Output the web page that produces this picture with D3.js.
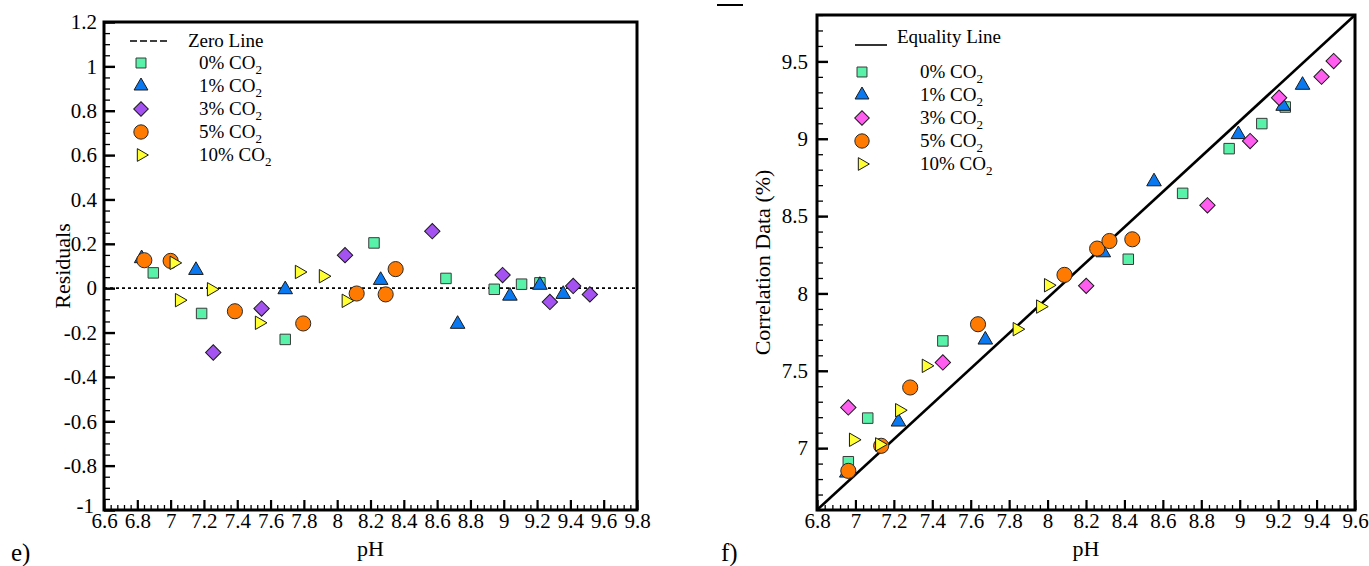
<!DOCTYPE html>
<html>
<head>
<meta charset="utf-8">
<script src="https://cdn.jsdelivr.net/npm/d3@7"></script>
<style>
  body { margin: 0; background: #fff; }
</style>
</head>
<body>
<div id="chart"></div>
<script>
// ---- data ----
// e) residuals vs pH
var resSquare = [[6.896, 0.069], [7.186, -0.114], [7.688, -0.231], [8.221, 0.204], [8.653, 0.044], [8.943, -0.005], [9.107, 0.018], [9.217, 0.024]];
var resTriangle = [[6.826, 0.134], [7.152, 0.081], [7.688, -0.006], [8.261, 0.036], [8.723, -0.162], [9.037, -0.035], [9.217, 0.014], [9.357, -0.027]];
var resDiamond = [[7.256, -0.290], [7.546, -0.092], [8.047, 0.149], [8.571, 0.257], [8.993, 0.059], [9.277, -0.062], [9.417, 0.010], [9.517, -0.028]];
var resCircle = [[6.842, 0.126], [7.0, 0.123], [7.386, -0.104], [7.796, -0.159], [8.117, -0.024], [8.291, -0.028], [8.351, 0.086]];
var resRight = [[7.02, 0.114], [7.052, -0.054], [7.244, -0.005], [7.532, -0.156], [7.772, 0.073], [7.916, 0.054], [8.053, -0.057]];

// f) correlation data vs pH
var corSquare = [[6.963, 6.912], [7.064, 7.194], [7.455, 7.693], [8.420, 8.221], [8.703, 8.647], [8.945, 8.936], [9.115, 9.098], [9.237, 9.205]];
var corTriangle = [[6.955, 6.84], [7.224, 7.170], [7.676, 7.700], [8.290, 8.264], [8.554, 8.723], [8.993, 9.028], [9.226, 9.211], [9.327, 9.347]];
var corDiamond = [[6.963, 7.263], [7.455, 7.554], [8.201, 8.049], [8.832, 8.570], [9.054, 8.985], [9.205, 9.265], [9.426, 9.401], [9.489, 9.502]];
var corCircle = [[6.963, 6.853], [7.134, 7.015], [7.285, 7.392], [7.638, 7.801], [8.088, 8.120], [8.258, 8.290], [8.322, 8.339], [8.441, 8.350]];
var corRight = [[6.989, 7.054], [7.125, 7.024], [7.229, 7.245], [7.368, 7.532], [7.841, 7.769], [7.963, 7.915], [8.004, 8.053]];

var seriesNames = ["0% CO", "1% CO", "3% CO", "5% CO", "10% CO"];
var xTicksE = [6.6, 6.8, 7, 7.2, 7.4, 7.6, 7.8, 8, 8.2, 8.4, 8.6, 8.8, 9, 9.2, 9.4, 9.6, 9.8];
var yTicksE = [-1, -0.8, -0.6, -0.4, -0.2, 0, 0.2, 0.4, 0.6, 0.8, 1, 1.2];
var xTicksF = [6.8, 7, 7.2, 7.4, 7.6, 7.8, 8, 8.2, 8.4, 8.6, 8.8, 9, 9.2, 9.4, 9.6];
var yTicksF = [7, 7.5, 8, 8.5, 9, 9.5];

var FONT = '"Liberation Serif", "Times New Roman", "DejaVu Serif", serif';
var W = 1369, H = 566;
var svg = d3.select("#chart").append("svg").attr("width", W).attr("height", H)
  .attr("font-family", FONT).style("font-family", FONT);

// marker styles: shape, colour
var styles = [
  { type: d3.symbolSquare, size: 110, rot: 0, fill: "#58F3A8", stroke: "#3a3a3a" },
  { type: d3.symbolTriangle, size: 92, rot: 0, fill: "#0A78F0", stroke: "#1a1a1a" },
  { type: d3.symbolSquare, size: 118, rot: 45, fill: "#A452F2", stroke: "#1a1a1a" },
  { type: d3.symbolCircle, size: 180, rot: 0, fill: "#FF7A00", stroke: "#2a2a2a" },
  { type: d3.symbolTriangle, size: 78, rot: 90, fill: "#FFFF33", stroke: "#1a1a1a" }
];

function range(a, b, step) {
  var out = [];
  var n = Math.round((b - a) / step);
  for (var i = 0; i <= n; i++) out.push(+(a + i * step).toFixed(4));
  return out;
}

function fmt(d) { return String(d); }   // plain hyphen minus, like the original

function drawMarker(g, d, st, x, y) {
  g.append("path")
    .attr("d", d3.symbol().type(st.type).size(st.size)())
    .attr("transform", "translate(" + x(d[0]) + "," + y(d[1]) + ") rotate(" + st.rot + ")")
    .attr("fill", st.fill)
    .attr("stroke", st.stroke)
    .attr("stroke-width", 1);
}

function styleText(sel, size) {
  return sel.attr("font-family", FONT).style("font-family", FONT)
    .attr("font-size", size).style("font-size", size + "px").attr("fill", "#000");
}

function drawPanel(opt) {
  var x = d3.scaleLinear().domain(opt.xDomain).range([opt.left, opt.right]);
  var y = d3.scaleLinear().domain(opt.yDomain).range([opt.bottom, opt.top]);
  var g = svg.append("g");

  // minor ticks
  g.append("g").attr("transform", "translate(0," + opt.bottom + ")")
    .call(d3.axisBottom(x).tickValues(range(opt.xDomain[0], opt.xDomain[1], opt.xMinor)).tickSize(-5).tickFormat(""))
    .call(function (s) { s.select(".domain").remove(); s.selectAll("line").attr("stroke-width", 1.3); });
  g.append("g").attr("transform", "translate(" + opt.left + ",0)")
    .call(d3.axisLeft(y).tickValues(range(opt.yDomain[0], opt.yDomain[1], opt.yMinor)).tickSize(-6).tickFormat(""))
    .call(function (s) { s.select(".domain").remove(); s.selectAll("line").attr("stroke-width", 1.3); });

  // major ticks + labels
  g.append("g").attr("transform", "translate(0," + opt.bottom + ")")
    .call(d3.axisBottom(x).tickValues(opt.xTicks).tickSize(-10).tickPadding(3).tickFormat(fmt))
    .call(function (s) {
      s.attr("font-family", FONT).attr("font-size", 21);
      s.select(".domain").remove();
      s.selectAll("line").attr("stroke-width", 2.2);
      styleText(s.selectAll("text"), 21);
    });
  var ya = g.append("g").attr("transform", "translate(" + opt.left + ",0)")
    .call(d3.axisLeft(y).tickValues(opt.yTicks).tickSize(-11).tickPadding(opt.yPad).tickFormat(fmt))
    .call(function (s) {
      s.attr("font-family", FONT).attr("font-size", 21);
      s.select(".domain").remove();
      s.selectAll("line").attr("stroke-width", 2.4);
      styleText(s.selectAll("text"), 21);
    });
  if (opt.lowMinLabel) {
    ya.selectAll("text").filter(function (d) { return d === opt.yDomain[0]; })
      .attr("dy", "0.1em").attr("x", -10);
  }

  // frame
  g.append("rect")
    .attr("x", opt.left).attr("y", opt.top)
    .attr("width", opt.right - opt.left).attr("height", opt.bottom - opt.top)
    .attr("fill", "none").attr("stroke", "#000").attr("stroke-width", 3);

  // reference line
  g.append("path")
    .datum(opt.refLine)
    .attr("d", d3.line().x(function (d) { return x(d[0]); }).y(function (d) { return y(d[1]); }))
    .attr("stroke", "#000")
    .attr("stroke-width", opt.refWidth)
    .attr("stroke-dasharray", opt.refDash)
    .attr("fill", "none");

  // points
  opt.series.forEach(function (pts, i) {
    var st = Object.assign({}, styles[i], i === 2 ? { fill: opt.diamondFill } : {});
    pts.forEach(function (d) { drawMarker(g, d, st, x, y); });
  });

  // legend
  var lg = g.append("g");
  lg.append("line")
    .attr("x1", opt.leg.lineX[0]).attr("x2", opt.leg.lineX[1])
    .attr("y1", opt.leg.lineY).attr("y2", opt.leg.lineY)
    .attr("stroke", "#000").attr("stroke-width", 1.6)
    .attr("stroke-dasharray", opt.legDash);
  styleText(lg.append("text").attr("x", opt.leg.lineTextX).attr("y", opt.leg.lineTextY).text(opt.refName), 19);
  seriesNames.forEach(function (name, i) {
    var ly = opt.leg.y0 + i * opt.leg.dy;
    var st = Object.assign({}, styles[i], i === 2 ? { fill: opt.diamondFill } : {});
    lg.append("path")
      .attr("d", d3.symbol().type(st.type).size(st.size * 0.9)())
      .attr("transform", "translate(" + opt.leg.markX + "," + ly + ") rotate(" + st.rot + ")")
      .attr("fill", st.fill).attr("stroke", st.stroke).attr("stroke-width", 1);
    var t = styleText(lg.append("text").attr("x", opt.leg.textX).attr("y", ly + 6), 19);
    t.append("tspan").text(name);
    t.append("tspan").attr("dy", 5).style("font-size", "13px").text("2");
  });

  // axis titles
  styleText(svg.append("text")
    .attr("transform", "translate(" + opt.yTitleX + "," + ((opt.top + opt.bottom) / 2) + ") rotate(-90)")
    .attr("text-anchor", "middle").text(opt.yTitle), 22);
  styleText(svg.append("text")
    .attr("x", (opt.left + opt.right) / 2).attr("y", 556)
    .attr("text-anchor", "middle").text("pH"), 22);
  styleText(svg.append("text")
    .attr("x", opt.tagX).attr("y", 561).text(opt.tag), 25);
}

drawPanel({
  left: 104, right: 637, top: 22, bottom: 510,
  xDomain: [6.6, 9.8], yDomain: [-1, 1.2],
  xTicks: xTicksE, yTicks: yTicksE, xMinor: 0.04, yMinor: 0.05, yPad: 7,
  lowMinLabel: true,
  refLine: [[6.6, 0], [9.8, 0]], refWidth: 1.7, refDash: "3,3", refName: "Zero Line", legDash: "7,3",
  series: [resSquare, resTriangle, resDiamond, resCircle, resRight],
  diamondFill: "#A452F2",
  leg: { lineX: [130, 169], lineY: 41, lineTextX: 188, lineTextY: 47, markX: 141, y0: 63, dy: 23, textX: 199 },
  yTitle: "Residuals", yTitleX: 70, tag: "e)", tagX: 11
});

drawPanel({
  left: 817, right: 1355, top: 15, bottom: 510,
  xDomain: [6.8, 9.6], yDomain: [6.6, 9.8],
  xTicks: xTicksF, yTicks: yTicksF, xMinor: 0.04, yMinor: 0.1, yPad: 9,
  lowMinLabel: false,
  refLine: [[6.8, 6.6], [9.6, 9.8]], refWidth: 2.6, refDash: null, refName: "Equality Line", legDash: null,
  series: [corSquare, corTriangle, corDiamond, corCircle, corRight],
  diamondFill: "#FF5CF0",
  leg: { lineX: [855, 887], lineY: 45, lineTextX: 897, lineTextY: 43, markX: 862, y0: 72, dy: 23, textX: 920 },
  yTitle: "Correlation Data (%)", yTitleX: 770, tag: "f)", tagX: 721
});

// stray short stroke at the top of the figure
svg.append("line").attr("x1", 717).attr("x2", 743).attr("y1", 5).attr("y2", 5)
  .attr("stroke", "#000").attr("stroke-width", 2);
</script>
</body>
</html>
